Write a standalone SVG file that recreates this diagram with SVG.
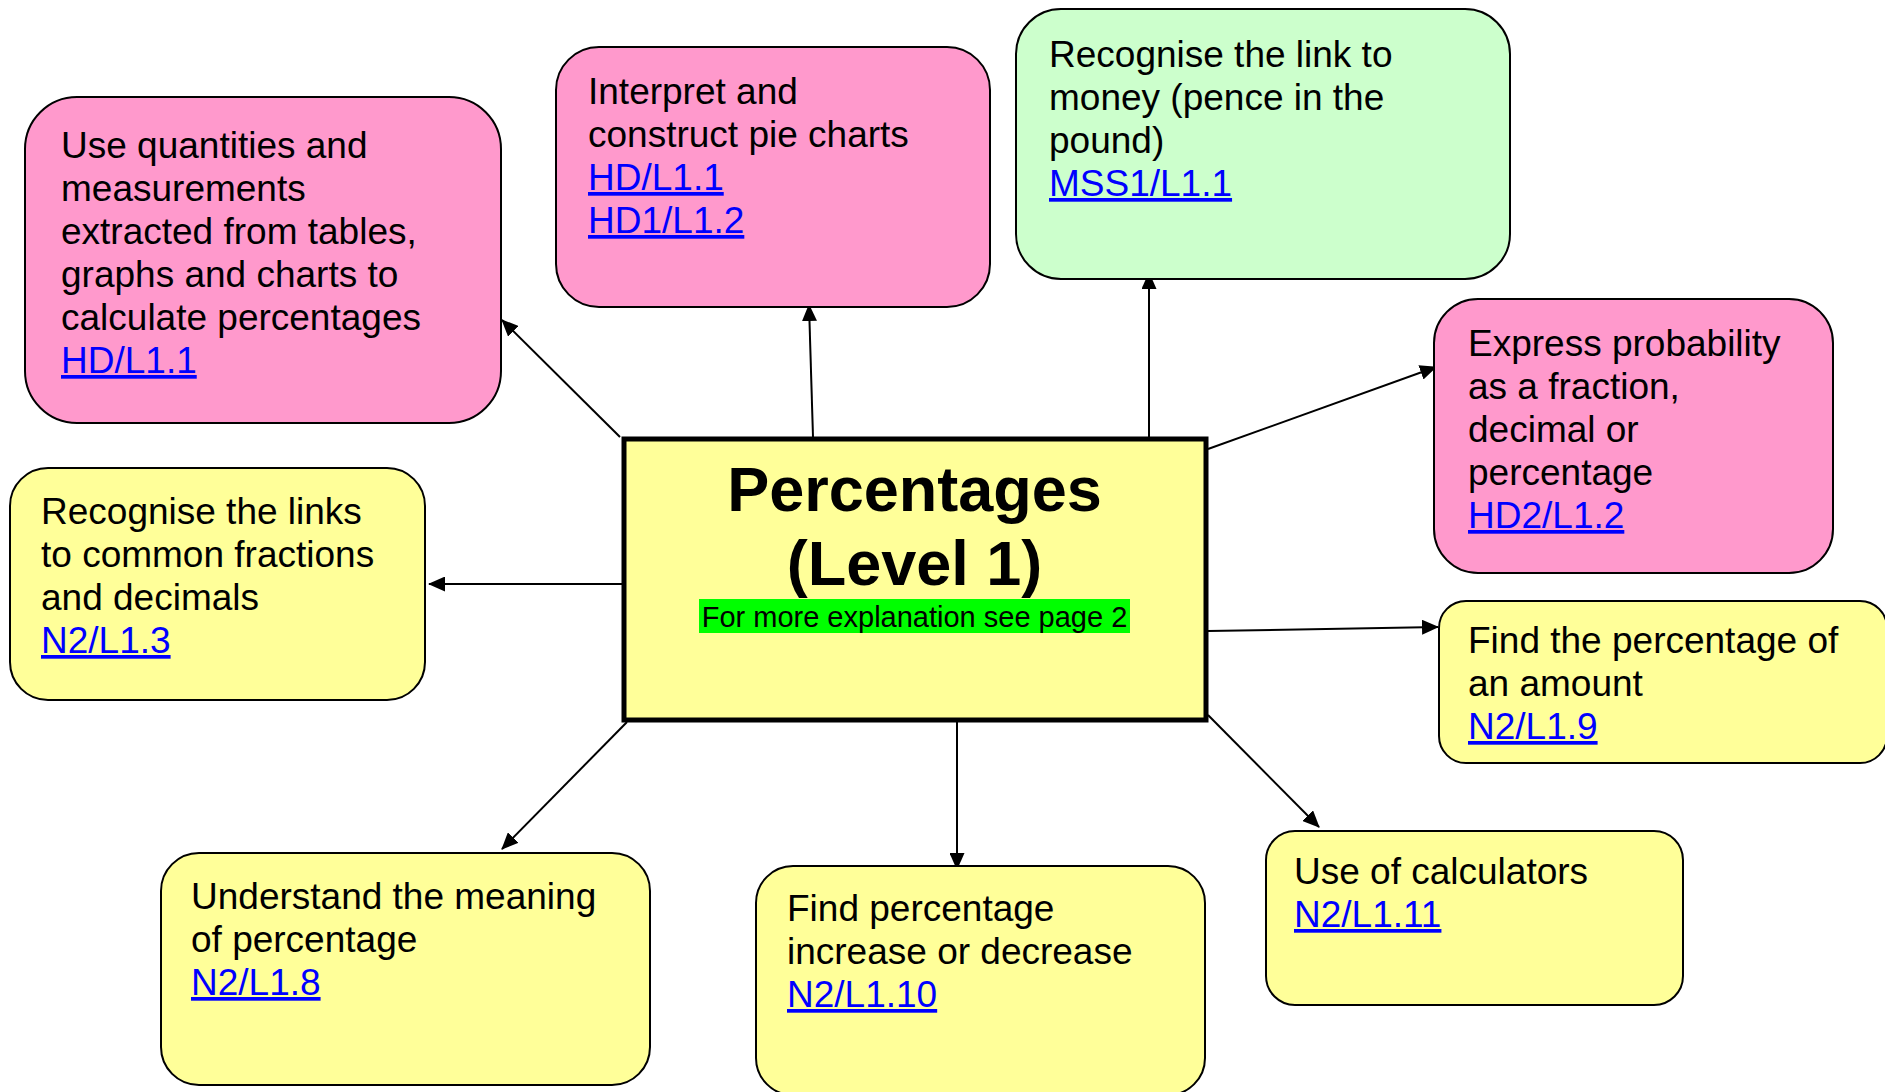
<svg xmlns="http://www.w3.org/2000/svg" width="1885" height="1092" viewBox="0 0 1885 1092">
<style>
.node{stroke:#000;stroke-width:2}
.pink{fill:#FF99CC}
.green{fill:#CCFFCC}
.yellow{fill:#FFFF99}
.t{font-family:"Liberation Sans",Arial,sans-serif;font-size:37px;fill:#000}
.lk{fill:#0000FF;text-decoration:underline}
.conn{stroke:#000;stroke-width:2;fill:none;marker-end:url(#arr)}
</style>
<defs>
<marker id="arr" markerUnits="userSpaceOnUse" markerWidth="17" markerHeight="15" refX="16" refY="7.5" orient="auto">
<path d="M0,0 L17,7.5 L0,15 Z" fill="#000"/>
</marker>
</defs>
<rect width="1885" height="1092" fill="#fff"/>
<g id="connectors">
<line class="conn" x1="620" y1="437" x2="502" y2="320"/>
<line class="conn" x1="813" y1="437" x2="809" y2="305"/>
<line class="conn" x1="1149" y1="437" x2="1149" y2="273"/>
<line class="conn" x1="1208" y1="449" x2="1436" y2="367"/>
<line class="conn" x1="1208" y1="631" x2="1438" y2="627"/>
<line class="conn" x1="1208" y1="715" x2="1319" y2="827"/>
<line class="conn" x1="957" y1="722" x2="957" y2="869"/>
<line class="conn" x1="627" y1="722" x2="502" y2="849"/>
<line class="conn" x1="622" y1="584" x2="429" y2="584"/>
</g>
<g id="center">
<rect x="624" y="439" width="582" height="281" fill="#FFFF99" stroke="#000" stroke-width="5"/>
<text x="914.5" y="511" text-anchor="middle" font-family="Liberation Sans,Arial,sans-serif" font-size="63" font-weight="bold">Percentages</text>
<text x="914.5" y="585" text-anchor="middle" font-family="Liberation Sans,Arial,sans-serif" font-size="63" font-weight="bold">(Level 1)</text>
<rect x="699" y="599" width="431" height="34" fill="#00FF00"/>
<text x="914.5" y="627" text-anchor="middle" font-family="Liberation Sans,Arial,sans-serif" font-size="29">For more explanation see page 2</text>
</g>
<g id="node-quantities">
<rect class="node pink" x="25" y="97" width="476" height="326" rx="52"/>
<text class="t"><tspan x="61" y="158">Use quantities and</tspan><tspan x="61" y="201">measurements</tspan><tspan x="61" y="244">extracted from tables,</tspan><tspan x="61" y="287">graphs and charts to</tspan><tspan x="61" y="330">calculate percentages</tspan></text>
<text class="t lk" x="61" y="373">HD/L1.1</text>
</g>
<g id="node-pie">
<rect class="node pink" x="556" y="47" width="434" height="260" rx="43"/>
<text class="t"><tspan x="588" y="104">Interpret and</tspan><tspan x="588" y="147">construct pie charts</tspan></text>
<text class="t lk" x="588" y="190">HD/L1.1</text>
<text class="t lk" x="588" y="233">HD1/L1.2</text>
</g>
<g id="node-money">
<rect class="node green" x="1016" y="9" width="494" height="270" rx="45"/>
<text class="t"><tspan x="1049" y="67">Recognise the link to</tspan><tspan x="1049" y="110">money (pence in the</tspan><tspan x="1049" y="153">pound)</tspan></text>
<text class="t lk" x="1049" y="196">MSS1/L1.1</text>
</g>
<g id="node-probability">
<rect class="node pink" x="1434" y="299" width="399" height="274" rx="44"/>
<text class="t"><tspan x="1468" y="356">Express probability</tspan><tspan x="1468" y="399">as a fraction,</tspan><tspan x="1468" y="442">decimal or</tspan><tspan x="1468" y="485">percentage</tspan></text>
<text class="t lk" x="1468" y="528">HD2/L1.2</text>
</g>
<g id="node-amount">
<rect class="node yellow" x="1439" y="601" width="448" height="162" rx="27"/>
<text class="t"><tspan x="1468" y="653">Find the percentage of</tspan><tspan x="1468" y="696">an amount</tspan></text>
<text class="t lk" x="1468" y="739">N2/L1.9</text>
</g>
<g id="node-calculators">
<rect class="node yellow" x="1266" y="831" width="417" height="174" rx="29"/>
<text class="t" x="1294" y="884">Use of calculators</text>
<text class="t lk" x="1294" y="927">N2/L1.11</text>
</g>
<g id="node-increase">
<rect class="node yellow" x="756" y="866" width="449" height="229" rx="37"/>
<text class="t"><tspan x="787" y="921">Find percentage</tspan><tspan x="787" y="964">increase or decrease</tspan></text>
<text class="t lk" x="787" y="1007">N2/L1.10</text>
</g>
<g id="node-meaning">
<rect class="node yellow" x="161" y="853" width="489" height="232" rx="38"/>
<text class="t"><tspan x="191" y="909">Understand the meaning</tspan><tspan x="191" y="952">of percentage</tspan></text>
<text class="t lk" x="191" y="995">N2/L1.8</text>
</g>
<g id="node-fractions">
<rect class="node yellow" x="10" y="468" width="415" height="232" rx="38"/>
<text class="t"><tspan x="41" y="524">Recognise the links</tspan><tspan x="41" y="567">to common fractions</tspan><tspan x="41" y="610">and decimals</tspan></text>
<text class="t lk" x="41" y="653">N2/L1.3</text>
</g>
</svg>
